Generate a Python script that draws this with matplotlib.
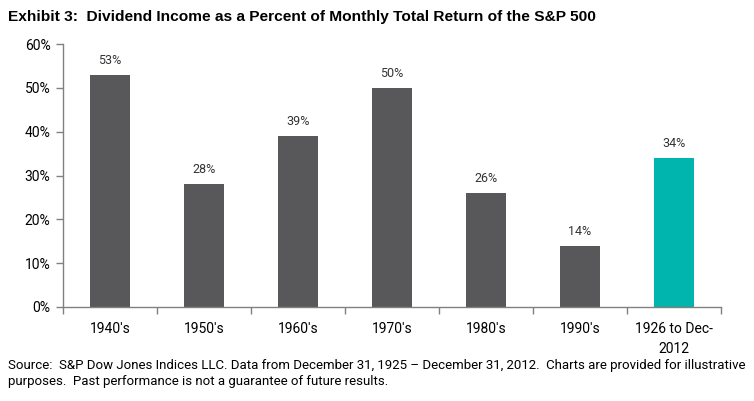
import matplotlib.pyplot as plt
import numpy as np

categories = ["1940's", "1950's", "1960's", "1970's", "1980's", "1990's", "1926 to Dec-\n2012"]
values = [53, 28, 39, 50, 26, 14, 34]
bar_labels = ["53%", "28%", "39%", "50%", "26%", "14%", "34%"]
yticks = [0, 10, 20, 30, 40, 50, 60]

narrow = ['Liberation Sans Narrow', 'Roboto', 'DejaVu Sans']
gray = '#58585a'
teal = '#00b5ad'
axcol = '#808080'

fig = plt.figure(figsize=(7.54, 4.01), dpi=100)
ax = fig.add_axes([63 / 754, (401 - 307) / 401, (721 - 63) / 754, (307 - 44) / 401])

x = np.arange(len(categories))
colors = [gray] * (len(values) - 1) + [teal]
ax.bar(x, values, width=0.415, color=colors, zorder=2)

for xi, v, lab in zip(x, values, bar_labels):
    ax.text(xi, v + 1.8, lab, ha='center', va='bottom', fontsize=9,
            family=narrow, color='#333333')

ax.set_xlim(-0.5, len(categories) - 0.5)
ax.set_ylim(0, 60)
ax.set_yticks(yticks)
ax.set_yticklabels([f"{t}%" for t in yticks], family=narrow, fontsize=10)

# category labels centred, ticks on the boundaries
ax.set_xticks(np.arange(len(categories) + 1) - 0.5)
ax.set_xticklabels([])
ax.set_xticks(x, minor=True)
ax.set_xticklabels(categories, minor=True, family=narrow, fontsize=10,
                   linespacing=1.5)
ax.tick_params(axis='x', which='minor', length=0, pad=11)
ax.tick_params(axis='x', which='major', length=5, color=axcol, width=1)
ax.tick_params(axis='y', length=5, color=axcol, width=1, pad=4)

for s in ['top', 'right']:
    ax.spines[s].set_visible(False)
for s in ['left', 'bottom']:
    ax.spines[s].set_color(axcol)
    ax.spines[s].set_linewidth(1)

fig.text(8 / 754, 1 - 17 / 401,
         "Exhibit 3:  Dividend Income as a Percent of Monthly Total Return of the S&P 500",
         family=['Liberation Sans', 'DejaVu Sans'], fontweight='bold', fontsize=11.15,
         va='center', ha='left')

fig.text(8 / 754, 1 - 365 / 401,
         "Source:  S&P Dow Jones Indices LLC. Data from December 31, 1925 \u2013 December 31, 2012.  Charts are provided for illustrative",
         family=narrow, fontsize=9.55, va='center', ha='left')
fig.text(8 / 754, 1 - 381 / 401,
         "purposes.  Past performance is not a guarantee of future results.",
         family=narrow, fontsize=9.55, va='center', ha='left')

fig.savefig('out.png', dpi=100)
